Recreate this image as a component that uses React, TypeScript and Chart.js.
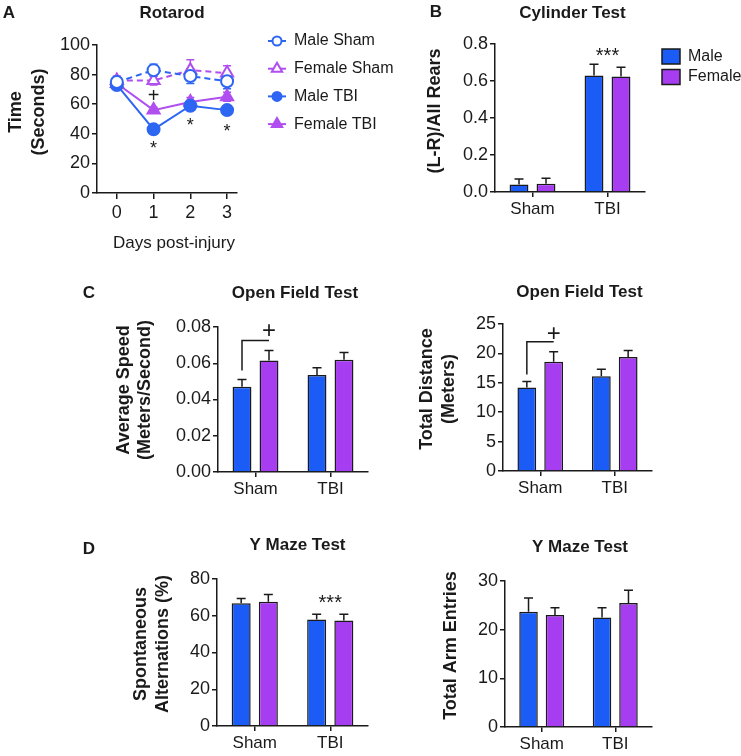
import React, { useEffect, useRef } from 'react';
import { Chart, registerables } from 'chart.js';

Chart.register(...registerables);

const W = 741;
const H = 756;
const CH = 800; // canvas height (taller than the page, clipped by the container)
const FONT = '"Liberation Sans", Arial, Helvetica, sans-serif';
const BLUE = '#1b5cf6';
const PURPLE = '#a63df0';
const LINE_BLUE = '#2d66f2';
const LINE_PURPLE = '#b04ef0';
const INK = '#1a1a1a';

// ---------- Panel A: Rotarod ----------
const days = [0, 1, 2, 3];
const maleSham = [75, 83, 79, 75.5];
const maleShamErr = [3, 4, 5, 5];
const femaleSham = [76, 76, 83, 81];
const femaleShamErr = [3, 3, 7, 5];
const maleTBI = [73, 43, 59, 56];
const maleTBIErr = [2, 3, 2, 2];
const femaleTBI = [74, 56, 61.5, 65];
const femaleTBIErr = [2, 2, 3, 3];
const rotarodTicks = [0, 20, 40, 60, 80, 100];
const rotarodLabels = ['Male Sham', 'Female Sham', 'Male TBI', 'Female TBI'];

// ---------- Shared groups ----------
const groups = ['Sham', 'TBI'];
const sexLabels = ['Male', 'Female'];

// ---------- Panel B: Cylinder ----------
const cylMale = [0.04, 0.63];
const cylMaleErr = [0.03, 0.06];
const cylFemale = [0.045, 0.625];
const cylFemaleErr = [0.03, 0.05];
const cylTicks = [0, 0.2, 0.4, 0.6, 0.8];

// ---------- Panel C: Open field ----------
const speedMale = [0.047, 0.0535];
const speedMaleErr = [0.004, 0.004];
const speedFemale = [0.0615, 0.062];
const speedFemaleErr = [0.0055, 0.004];
const speedTicks = [0, 0.02, 0.04, 0.06, 0.08];

const distMale = [14.2, 16.1];
const distMaleErr = [1.0, 1.2];
const distFemale = [18.6, 19.4];
const distFemaleErr = [1.7, 1.1];
const distTicks = [0, 5, 10, 15, 20, 25];

// ---------- Panel D: Y maze ----------
const altMale = [66.8, 57.9];
const altMaleErr = [2.6, 2.9];
const altFemale = [67.6, 57.4];
const altFemaleErr = [4.0, 3.4];
const altTicks = [0, 20, 40, 60, 80];

const entriesMale = [23.7, 22.5];
const entriesMaleErr = [2.8, 2.0];
const entriesFemale = [23.0, 25.5];
const entriesFemaleErr = [1.5, 2.6];
const entriesTicks = [0, 10, 20, 30];

// ---------- helpers ----------
const YW = 60;
const XH = 40;

type Area = { l: number; r: number; t: number; b: number };

function layoutFor(a: Area) {
  return { padding: { left: a.l - YW, top: a.t, right: W - a.r, bottom: CH - a.b - XH } };
}

function yLinear(ticks: number[], decimals: number) {
  return {
    type: 'linear',
    min: ticks[0],
    max: ticks[ticks.length - 1],
    afterBuildTicks: (s: any) => { s.ticks = ticks.map((v) => ({ value: v })); },
    afterFit: (s: any) => { s.width = YW; },
    ticks: {
      color: INK,
      font: { size: 18, family: FONT },
      padding: 2,
      callback: (v: any) => Number(v).toFixed(decimals),
    },
    grid: { drawOnChartArea: false, drawTicks: true, tickLength: 5, color: INK, lineWidth: 1.5 },
    border: { display: true, color: INK, width: 1.5 },
  };
}

function xCategory() {
  return {
    type: 'category',
    offset: true,
    afterFit: (s: any) => { s.height = XH; },
    ticks: { color: INK, font: { size: 17, family: FONT }, padding: 2, maxRotation: 0 },
    grid: { offset: false, drawOnChartArea: false, drawTicks: true, tickLength: 5, color: INK, lineWidth: 1.5 },
    border: { display: true, color: INK, width: 1.5 },
  };
}

function drawMarker(ctx: CanvasRenderingContext2D, style: string, x: number, y: number, r: number, fill: string, stroke: string, lw: number) {
  ctx.beginPath();
  if (style === 'triangle') {
    let rad = 0;
    ctx.moveTo(x + Math.sin(rad) * r, y - Math.cos(rad) * r);
    rad += (2 * Math.PI) / 3;
    ctx.lineTo(x + Math.sin(rad) * r, y - Math.cos(rad) * r);
    rad += (2 * Math.PI) / 3;
    ctx.lineTo(x + Math.sin(rad) * r, y - Math.cos(rad) * r);
    ctx.closePath();
  } else {
    ctx.arc(x, y, r, 0, Math.PI * 2);
  }
  ctx.fillStyle = fill;
  ctx.fill();
  ctx.lineWidth = lw;
  ctx.strokeStyle = stroke;
  ctx.stroke();
}

// error bars drawn from each dataset's own error array
const errorBarPlugin = {
  id: 'errorBars',
  beforeDatasetsDraw(chart: any) {
    const ctx = chart.ctx as CanvasRenderingContext2D;
    const ys = chart.scales.y;
    chart.data.datasets.forEach((ds: any, di: number) => {
      const errs: number[] | undefined = ds.errors;
      if (!errs) return;
      const meta = chart.getDatasetMeta(di);
      const both = ds.errorMode === 'both';
      const color = both ? ds.borderColor : INK;
      const cap = both ? 4 : 4.5;
      meta.data.forEach((el: any, i: number) => {
        const raw = ds.data[i];
        const val = typeof raw === 'number' ? raw : raw.y;
        const e = errs[i];
        const top = ys.getPixelForValue(val + e);
        const bot = both ? ys.getPixelForValue(val - e) : ys.getPixelForValue(val);
        const x = el.x;
        ctx.save();
        ctx.strokeStyle = color;
        ctx.lineWidth = 1.5;
        ctx.setLineDash([]);
        ctx.beginPath();
        ctx.moveTo(x, bot);
        ctx.lineTo(x, top);
        ctx.moveTo(x - cap, top);
        ctx.lineTo(x + cap, top);
        if (both) {
          ctx.moveTo(x - cap, bot);
          ctx.lineTo(x + cap, bot);
        }
        ctx.stroke();
        ctx.restore();
      });
    });
  },
};

// significance marks and brackets, placed through the scales
const marksPlugin = {
  id: 'marks',
  afterDatasetsDraw(chart: any, _args: any, opts: any) {
    const items = (opts && opts.items) || [];
    const ctx = chart.ctx as CanvasRenderingContext2D;
    const xs = chart.scales.x;
    const ys = chart.scales.y;
    const xOf = (m: any) => (m.ds !== undefined ? chart.getDatasetMeta(m.ds).data[m.x].x : xs.getPixelForValue(m.x));
    items.forEach((m: any) => {
      ctx.save();
      if (m.type === 'bracket') {
        const x1 = chart.getDatasetMeta(0).data[m.x].x;
        const x2 = chart.getDatasetMeta(1).data[m.x].x;
        const yl = ys.getPixelForValue(m.low);
        const yh = ys.getPixelForValue(m.high);
        ctx.strokeStyle = INK;
        ctx.lineWidth = 1.5;
        ctx.beginPath();
        ctx.moveTo(x1, yl);
        ctx.lineTo(x1, yh);
        ctx.lineTo(x2, yh);
        ctx.stroke();
      } else {
        ctx.fillStyle = INK;
        ctx.font = `${m.size || 18}px ${FONT}`;
        ctx.textAlign = 'center';
        ctx.textBaseline = 'middle';
        ctx.fillText(m.text, xOf(m), ys.getPixelForValue(m.y));
      }
      ctx.restore();
    });
  },
};

// titles, panel letters and axis titles
const textPlugin = {
  id: 'panelText',
  afterDraw(chart: any, _args: any, opts: any) {
    const items = (opts && opts.items) || [];
    const ctx = chart.ctx as CanvasRenderingContext2D;
    items.forEach((t: any) => {
      ctx.save();
      ctx.font = `${t.bold ? 'bold ' : ''}${t.size}px ${FONT}`;
      ctx.fillStyle = INK;
      ctx.textAlign = t.align || 'center';
      ctx.textBaseline = 'middle';
      ctx.translate(t.x, t.y);
      if (t.rotate) ctx.rotate(-Math.PI / 2);
      const lines: string[] = Array.isArray(t.text) ? t.text : [t.text];
      const lh = t.lineHeight || t.size * 1.2;
      lines.forEach((ln, i) => ctx.fillText(ln, 0, (i - (lines.length - 1) / 2) * lh));
      ctx.restore();
    });
  },
};

const legendPlugin = {
  id: 'customLegend',
  afterDraw(chart: any, _args: any, opts: any) {
    if (!opts || !opts.show) return;
    const ctx = chart.ctx as CanvasRenderingContext2D;
    chart.data.datasets.forEach((ds: any, i: number) => {
      const y = opts.y + i * opts.dy;
      ctx.save();
      if (opts.kind === 'line') {
        ctx.strokeStyle = ds.borderColor;
        ctx.lineWidth = 2;
        ctx.setLineDash([]);
        ctx.beginPath();
        ctx.moveTo(opts.x - 9, y);
        ctx.lineTo(opts.x + 9, y);
        ctx.stroke();
        const r = ds.pointStyle === 'triangle' ? 6 : 4.5;
        drawMarker(ctx, ds.pointStyle, opts.x, y, r, ds.pointBackgroundColor, ds.pointBorderColor, 2);
      } else {
        ctx.fillStyle = ds.backgroundColor;
        ctx.strokeStyle = INK;
        ctx.lineWidth = 1.5;
        ctx.fillRect(opts.x - 9, y - 7.5, 18, 15);
        ctx.strokeRect(opts.x - 9, y - 7.5, 18, 15);
      }
      ctx.fillStyle = INK;
      ctx.font = `${opts.size}px ${FONT}`;
      ctx.textAlign = 'left';
      ctx.textBaseline = 'middle';
      ctx.fillText(ds.label, opts.textX, y);
      ctx.restore();
    });
  },
};

const PLUGINS = [errorBarPlugin, marksPlugin, textPlugin, legendPlugin];

function basePlugins(texts: any[], marks: any[], legend: any) {
  return {
    legend: { display: false },
    tooltip: { enabled: false },
    panelText: { items: texts },
    marks: { items: marks },
    customLegend: legend || { show: false },
  };
}

// ---------- chart factories ----------
function makeRotarod() {
  const pts = (arr: number[]) => days.map((d, i) => ({ x: d, y: arr[i] }));
  const ds = (label: string, data: number[], err: number[], color: string, dashed: boolean, style: string, open: boolean) => ({
    label,
    data: pts(data),
    errors: err,
    errorMode: 'both',
    borderColor: color,
    backgroundColor: color,
    borderWidth: 2,
    borderDash: dashed ? [6, 4] : [],
    pointStyle: style,
    pointRadius: style === 'triangle' ? 7 : 6,
    pointBorderWidth: 2,
    pointBackgroundColor: open ? '#ffffff' : color,
    pointBorderColor: color,
    tension: 0,
    fill: false,
  });
  return {
    type: 'line',
    data: {
      datasets: [
        ds(rotarodLabels[0], maleSham, maleShamErr, LINE_BLUE, true, 'circle', true),
        ds(rotarodLabels[1], femaleSham, femaleShamErr, LINE_PURPLE, true, 'triangle', true),
        ds(rotarodLabels[2], maleTBI, maleTBIErr, LINE_BLUE, false, 'circle', false),
        ds(rotarodLabels[3], femaleTBI, femaleTBIErr, LINE_PURPLE, false, 'triangle', false),
      ],
    },
    options: {
      responsive: false,
      animation: false,
      devicePixelRatio: 1,
      layout: layoutFor({ l: 97, r: 237, t: 45, b: 193 }),
      scales: {
        x: {
          type: 'linear',
          min: -0.54,
          max: 3.27,
          afterBuildTicks: (s: any) => { s.ticks = days.map((v) => ({ value: v })); },
          afterFit: (s: any) => { s.height = XH; },
          ticks: { color: INK, font: { size: 18, family: FONT }, padding: 3 },
          grid: { drawOnChartArea: false, drawTicks: true, tickLength: 6, color: INK, lineWidth: 1.5 },
          border: { display: true, color: INK, width: 1.5 },
        },
        y: yLinear(rotarodTicks, 0),
      },
      plugins: basePlugins(
        [
          { text: 'A', x: 9, y: 13, size: 17, bold: true },
          { text: 'Rotarod', x: 172, y: 13, size: 17, bold: true },
          { text: ['Time', '(Seconds)'], x: 27.5, y: 112, size: 18, bold: true, rotate: true, lineHeight: 23 },
          { text: 'Days post-injury', x: 174, y: 243, size: 17 },
        ],
        [
          { text: '+', x: 1, y: 65, size: 20 },
          { text: '*', x: 1, y: 29.7, size: 18 },
          { text: '*', x: 2, y: 45.3, size: 18 },
          { text: '*', x: 3, y: 41.2, size: 18 },
        ],
        { show: true, kind: 'line', x: 277, y: 41, dy: 27.7, textX: 294, size: 16 },
      ),
    },
    plugins: PLUGINS,
  };
}

function makeBar(p: any) {
  return () => ({
    type: 'bar',
    data: {
      labels: groups,
      datasets: [
        { label: sexLabels[0], data: p.male, errors: p.maleErr, backgroundColor: BLUE, borderColor: INK, borderWidth: 1.5, borderSkipped: 'start', categoryPercentage: 0.72, barPercentage: 0.7 },
        { label: sexLabels[1], data: p.female, errors: p.femaleErr, backgroundColor: PURPLE, borderColor: INK, borderWidth: 1.5, borderSkipped: 'start', categoryPercentage: 0.72, barPercentage: 0.7 },
      ],
    },
    options: {
      responsive: false,
      animation: false,
      devicePixelRatio: 1,
      layout: layoutFor(p.area),
      scales: { x: xCategory(), y: yLinear(p.ticks, p.decimals) },
      plugins: basePlugins(p.texts, p.marks || [], p.legend),
    },
    plugins: PLUGINS,
  });
}

const factories = [
  makeRotarod,
  makeBar({
    area: { l: 495, r: 645, t: 44, b: 192 },
    male: cylMale, maleErr: cylMaleErr, female: cylFemale, femaleErr: cylFemaleErr,
    ticks: cylTicks, decimals: 1,
    texts: [
      { text: 'B', x: 436, y: 12.5, size: 17, bold: true },
      { text: 'Cylinder Test', x: 572.5, y: 13, size: 17, bold: true },
      { text: '(L-R)/All Rears', x: 435.5, y: 111, size: 18, bold: true, rotate: true },
    ],
    marks: [{ text: '***', x: 1, y: 0.733, size: 20 }],
    legend: { show: true, kind: 'box', x: 671, y: 56.5, dy: 20.5, textX: 688, size: 16 },
  }),
  makeBar({
    area: { l: 218, r: 368, t: 327, b: 472 },
    male: speedMale, maleErr: speedMaleErr, female: speedFemale, femaleErr: speedFemaleErr,
    ticks: speedTicks, decimals: 2,
    texts: [
      { text: 'C', x: 89, y: 293, size: 17, bold: true },
      { text: 'Open Field Test', x: 295, y: 293, size: 17, bold: true },
      { text: ['Average Speed', '(Meters/Second)'], x: 134.5, y: 390, size: 18, bold: true, rotate: true, lineHeight: 20.5 },
    ],
    marks: [
      { type: 'bracket', x: 0, low: 0.056, high: 0.0725 },
      { text: '+', x: 0, ds: 1, y: 0.0778, size: 24 },
    ],
  }),
  makeBar({
    area: { l: 503, r: 652, t: 324, b: 471 },
    male: distMale, maleErr: distMaleErr, female: distFemale, femaleErr: distFemaleErr,
    ticks: distTicks, decimals: 0,
    texts: [
      { text: 'Open Field Test', x: 579.5, y: 292, size: 17, bold: true },
      { text: ['Total Distance', '(Meters)'], x: 438.5, y: 389, size: 18, bold: true, rotate: true, lineHeight: 22 },
    ],
    marks: [
      { type: 'bracket', x: 0, low: 16.4, high: 22.0 },
      { text: '+', x: 0, ds: 1, y: 23.3, size: 24 },
    ],
  }),
  makeBar({
    area: { l: 217, r: 368, t: 579, b: 726 },
    male: altMale, maleErr: altMaleErr, female: altFemale, femaleErr: altFemaleErr,
    ticks: altTicks, decimals: 0,
    texts: [
      { text: 'D', x: 89, y: 549, size: 17, bold: true },
      { text: 'Y Maze Test', x: 297.5, y: 545, size: 17, bold: true },
      { text: ['Spontaneous', 'Alternations (%)'], x: 152, y: 644, size: 18, bold: true, rotate: true, lineHeight: 22 },
    ],
    marks: [{ text: '***', x: 1, y: 66.7, size: 20 }],
  }),
  makeBar({
    area: { l: 505, r: 652, t: 581, b: 727 },
    male: entriesMale, maleErr: entriesMaleErr, female: entriesFemale, femaleErr: entriesFemaleErr,
    ticks: entriesTicks, decimals: 0,
    texts: [
      { text: 'Y Maze Test', x: 580, y: 547, size: 17, bold: true },
      { text: 'Total Arm Entries', x: 451.5, y: 645.5, size: 18, bold: true, rotate: true },
    ],
  }),
];

function ChartCanvas({ make }: { make: () => any }) {
  const ref = useRef<HTMLCanvasElement | null>(null);
  useEffect(() => {
    if (!ref.current) return;
    const chart = new Chart(ref.current, make() as any);
    return () => chart.destroy();
  }, [make]);
  return (
    <canvas
      ref={ref}
      width={W}
      height={CH}
      style={{ position: 'absolute', left: 0, top: 0, width: W, height: CH, display: 'block' }}
    />
  );
}

export default function App() {
  useEffect(() => {
    document.body.style.margin = '0';
    document.body.style.background = '#ffffff';
  }, []);
  return (
    <div style={{ position: 'relative', width: W, height: H, background: '#ffffff', overflow: 'hidden' }}>
      {factories.map((f, i) => (
        <ChartCanvas key={i} make={f} />
      ))}
    </div>
  );
}
